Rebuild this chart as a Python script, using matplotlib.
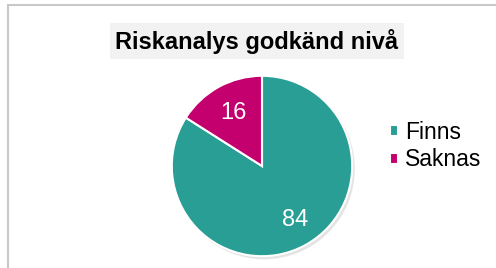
import matplotlib
matplotlib.use("Agg")
import matplotlib.pyplot as plt
from matplotlib.patches import Rectangle

plt.rcParams["font.family"] = ["Liberation Sans", "DejaVu Sans"]

labels = ["Finns", "Saknas"]
values = [84, 16]
colors = ["#289E94", "#C4006E"]
title = "Riskanalys godkänd nivå"

fig = plt.figure(figsize=(4.96, 2.68), dpi=100)

# chart border (cut off at right/bottom like the screenshot)
fig.patches.append(Rectangle((8 / 496, -0.1), 1.2, (268 - 5) / 268 + 0.1,
                             transform=fig.transFigure, fill=False,
                             edgecolor="#c8c8c8", linewidth=1.5,
                             joinstyle="miter"))

# pie: center ~ (262, 166), radius ~ 92 px
cx, cy, r = 262, 166, 92
ax = fig.add_axes([(cx - r) / 496, (268 - cy - r) / 268, 2 * r / 496, 2 * r / 268])
ax.set_aspect("auto")

# soft shadow
for i, a in enumerate([0.10, 0.08, 0.06]):
    ax.pie([1], radius=1.0 + 0.004 * i, colors=["#888888"], center=(0.025, -0.03),
           wedgeprops=dict(alpha=a, linewidth=0))

wedges, _ = ax.pie(values, colors=colors, startangle=90, counterclock=False,
                   wedgeprops=dict(edgecolor="white", linewidth=1.5))
ax.set_xlim(-1.02, 1.02)
ax.set_ylim(-1.02, 1.02)
ax.axis("off")

# data labels
ax.text(0.37, -0.6, str(values[0]), color="white", fontsize=17, ha="center", va="center")
ax.text(-0.32, 0.59, str(values[1]), color="white", fontsize=17, ha="center", va="center")

# title with light grey box
fig.text(257 / 496, 1 - 41 / 268, title, fontsize=17, fontweight="bold",
         ha="center", va="center",
         bbox=dict(boxstyle="square,pad=0.25", facecolor="#f2f2f2", edgecolor="none"))

# legend
leg = fig.legend(wedges, labels, loc="center left",
                 bbox_to_anchor=(390 / 496, 1 - 146 / 268), frameon=False,
                 borderpad=0, borderaxespad=0,
                 fontsize=16.5, handlelength=0.36, handleheight=0.36,
                 handletextpad=0.3, labelspacing=0.2)

fig.savefig("out.png", dpi=100)
